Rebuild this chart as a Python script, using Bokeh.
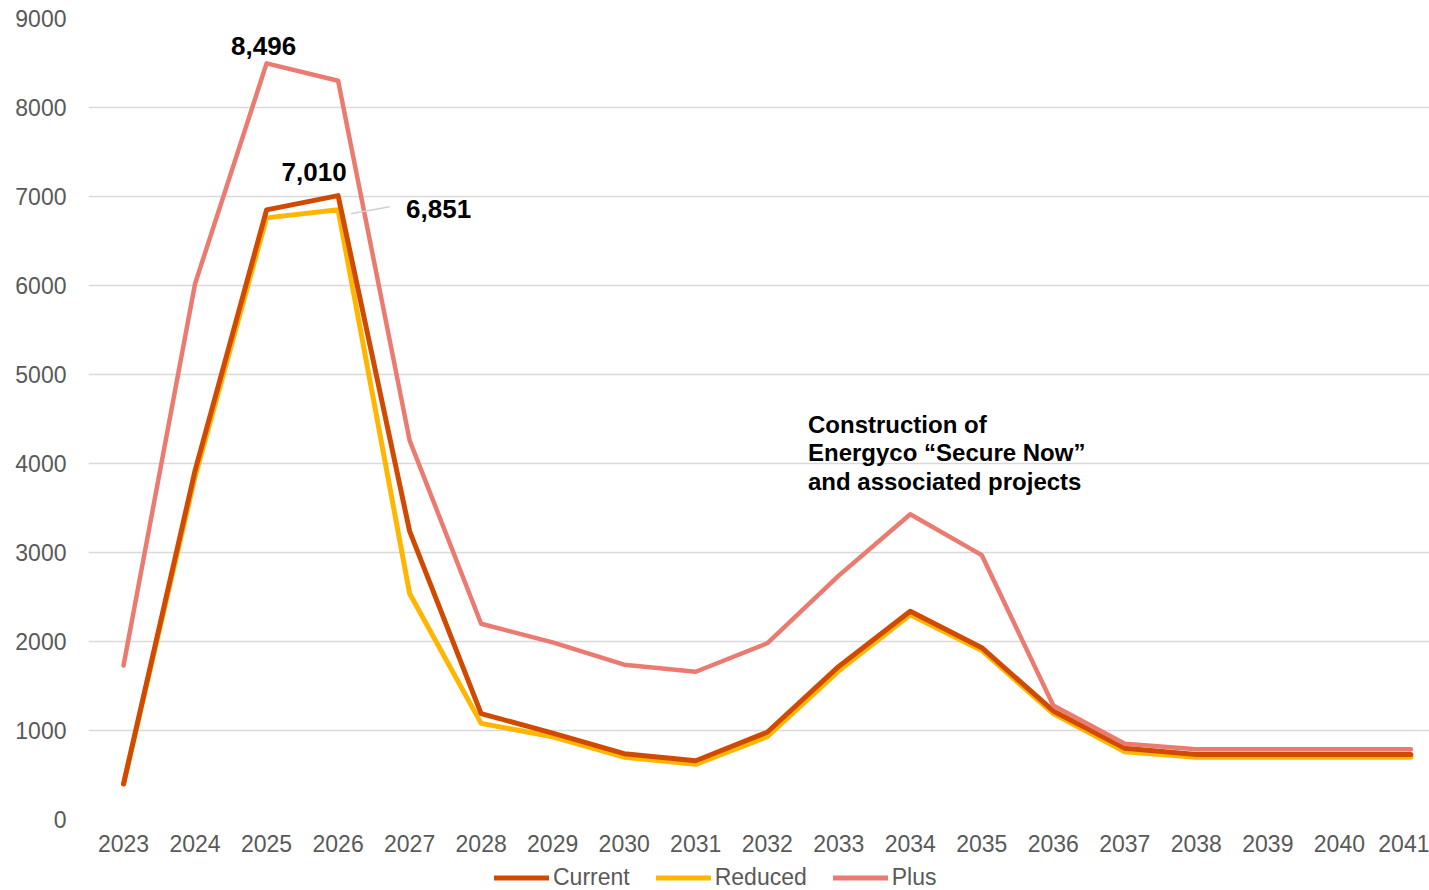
from bokeh.plotting import figure
from bokeh.layouts import column
from bokeh.models import (Range1d, FixedTicker, Legend, LegendItem, Label, ColumnDataSource)
from bokeh.core.properties import value
from bokeh.embed import file_html
from bokeh.resources import INLINE

years = [2023, 2024, 2025, 2026, 2027, 2028, 2029, 2030, 2031, 2032,
         2033, 2034, 2035, 2036, 2037, 2038, 2039, 2040, 2041]
current = [400, 3920, 6850, 7010, 3240, 1190, 970, 740, 660, 980,
           1720, 2340, 1930, 1220, 800, 730, 730, 730, 730]
reduced = [400, 3850, 6760, 6851, 2540, 1080, 930, 700, 620, 930,
           1670, 2300, 1900, 1190, 760, 700, 700, 700, 700]
plus = [1730, 6020, 8496, 8300, 4260, 2200, 1990, 1740, 1660, 1980,
        2740, 3430, 2970, 1280, 850, 790, 790, 790, 790]
series_names = ["Current", "Reduced", "Plus"]

FONT = "Liberation Sans"
C_CUR = "#D04A02"
C_RED = "#FFB600"
C_PLUS = "#EB7B70"

p = figure(frame_width=1341, frame_height=801, output_backend="svg", toolbar_location=None,
           x_range=Range1d(2022.51, 2041.26), y_range=Range1d(0, 9000),
           min_border_left=88, min_border_top=18, min_border_right=0, min_border_bottom=44)
p.outline_line_color = None
p.background_fill_color = "white"
p.border_fill_color = "white"

src = ColumnDataSource(dict(year=years, current=current, reduced=reduced, plus=plus))
p.line("year", "reduced", source=src, line_color=C_RED, line_width=5,
       line_cap="round", line_join="round")
p.line("year", "current", source=src, line_color=C_CUR, line_width=5,
       line_cap="round", line_join="round")
p.line("year", "plus", source=src, line_color=C_PLUS, line_width=4.5,
       line_cap="round", line_join="round")

# axes
p.xaxis.ticker = FixedTicker(ticks=years)
p.yaxis.ticker = FixedTicker(ticks=list(range(0, 9001, 1000)))
for ax in (p.xaxis[0], p.yaxis[0]):
    ax.axis_line_color = None
    ax.major_tick_line_color = None
    ax.minor_tick_line_color = None
    ax.major_tick_out = 0
    ax.major_tick_in = 0
    ax.major_label_text_font = FONT
    ax.major_label_text_font_size = "23px"
    ax.major_label_text_color = "#595959"
p.yaxis.major_label_standoff = 22
p.xaxis.major_label_standoff = 15

p.xgrid.grid_line_color = None
p.ygrid.grid_line_color = "#d9d9d9"
p.ygrid.grid_line_width = 1.5

# data labels
i25 = years.index(2025)
i26 = years.index(2026)
p.text(x=[years[i25]], y=[plus[i25]], text=["8,496"], text_font=value(FONT),
       text_font_size="26px", text_font_style="bold", text_color="black",
       text_align="center", text_baseline="bottom", x_offset=-3, y_offset=-8)
p.text(x=[years[i26]], y=[current[i26]], text=["7,010"], text_font=value(FONT),
       text_font_size="26px", text_font_style="bold", text_color="black",
       text_align="center", text_baseline="bottom", x_offset=-24, y_offset=-15)
p.text(x=[years[i26]], y=[reduced[i26]], text=["6,851"], text_font=value(FONT),
       text_font_size="26px", text_font_style="bold", text_color="black",
       text_align="left", text_baseline="middle", x_offset=68, y_offset=-1)
p.segment(x0=[years[i26] + 0.18], y0=[reduced[i26] - 45],
          x1=[years[i26] + 0.72], y1=[reduced[i26] + 35],
          line_color="#d0d0d0", line_width=1.5)

note = Label(x=2032.57, y=4590, text="Construction of\nEnergyco \u201cSecure Now\u201d\nand associated projects",
             text_font=FONT, text_font_size="24px", text_font_style="bold",
             text_color="black", text_align="left", text_baseline="top",
             text_line_height=1.05)
p.add_layout(note)

# legend strip (separate small figure below the chart; its proxy lines lie outside its range)
p2 = figure(width=1429, height=28, output_backend="svg", toolbar_location=None,
            x_range=Range1d(0, 1), y_range=Range1d(0, 1),
            min_border_left=88, min_border_right=0, min_border_top=0, min_border_bottom=0)
p2.axis.visible = False
p2.grid.visible = False
p2.outline_line_color = None
leg_r = []
for col in [C_CUR, C_RED, C_PLUS]:
    leg_r.append(p2.line(x=[5, 6], y=[5, 5], line_color=col, line_width=5, line_cap="round"))

legend = Legend(items=[LegendItem(label=n, renderers=[r]) for n, r in zip(series_names, leg_r)],
                orientation="horizontal", location=(406, 0),
                border_line_alpha=0, background_fill_alpha=0,
                padding=0, margin=0, spacing=26, label_standoff=4,
                glyph_width=55, glyph_height=23, label_height=23,
                label_text_font=FONT, label_text_font_size="23px",
                label_text_color="#595959")
p2.add_layout(legend, "center")

layout = column(p, p2, spacing=0)
open("out.html", "w").write(file_html(layout, INLINE))
